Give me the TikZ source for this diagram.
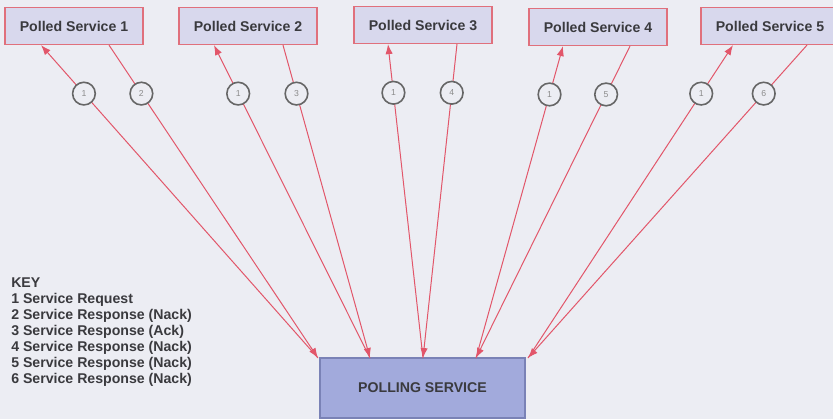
\documentclass[tikz,border=0pt]{standalone}
\usepackage{fontspec}
\setmainfont{Liberation Sans}
\usetikzlibrary{arrows.meta,calc}

\definecolor{paper}{RGB}{236,237,243}
\definecolor{boxfill}{RGB}{216,216,237}
\definecolor{boxline}{RGB}{224,112,124}
\definecolor{pollfill}{RGB}{162,170,220}
\definecolor{pollline}{RGB}{122,130,182}
\definecolor{wire}{RGB}{226,86,106}
\definecolor{ink}{RGB}{58,58,62}

\begin{document}
\begin{tikzpicture}[x=0.75pt,y=-0.75pt,
  polled/.style={draw=boxline, line width=0.9pt, fill=boxfill, text=ink,
    minimum width=103.5pt, minimum height=27.75pt, inner sep=0pt,
    font=\fontsize{10.6}{12}\selectfont\bfseries},
  poller/.style={draw=pollline, line width=0.8pt, fill=pollfill, text=ink,
    minimum width=153.75pt, minimum height=45pt, inner sep=0pt,
    font=\fontsize{10.6}{12}\selectfont\bfseries},
  num/.style={circle, draw=black!60, line width=1.2pt, fill=paper, text=black!45,
    minimum size=17pt, inner sep=0pt, font=\fontsize{6.5}{6.5}\selectfont},
  req/.style={draw=wire, line width=0.75pt, -{Latex[length=7.5pt,width=5.5pt]}},
  resp/.style={req}]

  % Page
  \fill[paper] (0,0) rectangle (833,419);
  \useasboundingbox (0,0) rectangle (833,419);

  % Polled services
  \node[polled] (ps1) at (74,26) {Polled Service 1};
  \node[polled] (ps2) at (248,26) {Polled Service 2};
  \node[polled] (ps3) at (423,25) {Polled Service 3};
  \node[polled] (ps4) at (598,27) {Polled Service 4};
  \node[polled] (ps5) at (770,26) {Polled Service 5};

  % Polling service
  \node[poller] (poll) at (422.5,388) {POLLING SERVICE};

  % Meeting points on top of the polling service
  \coordinate (p1) at (318,358);
  \coordinate (p2) at (370,358);
  \coordinate (p3) at (423,358);
  \coordinate (p4) at (476,358);
  \coordinate (p5) at (528,358);

  % Requests (1) up, responses back down
  \draw[req] (p1) -- node[num,pos=0.845] (q1) {1} ($(ps1.south)+(-33,0)$);
  \draw[resp] ($(ps1.south)+(35,0)$) -- node[num,pos=0.155] (r1) {2} (p1);

  \draw[req] (p2) -- node[num,pos=0.845] (q2) {1} ($(ps2.south)+(-34,0)$);
  \draw[resp] ($(ps2.south)+(35,0)$) -- node[num,pos=0.155] (r2) {3} (p2);

  \draw[req] (p3) -- node[num,pos=0.845] (q3) {1} ($(ps3.south)+(-35,0)$);
  \draw[resp] ($(ps3.south)+(34,0)$) -- node[num,pos=0.155] (r3) {4} (p3);

  \draw[req] (p4) -- node[num,pos=0.845] (q4) {1} ($(ps4.south)+(-35,0)$);
  \draw[resp] ($(ps4.south)+(32,0)$) -- node[num,pos=0.155] (r4) {5} (p4);

  \draw[req] (p5) -- node[num,pos=0.845] (q5) {1} ($(ps5.south)+(-37,0)$);
  \draw[resp] ($(ps5.south)+(37,0)$) -- node[num,pos=0.155] (r5) {6} (p5);

  % Key
  \node[anchor=north west, inner sep=0pt, align=left, text=ink,
    font=\fontsize{10.6}{12}\selectfont\bfseries] (key) at (11,278)
    {KEY\\
     1 Service Request\\
     2 Service Response (Nack)\\
     3 Service Response (Ack)\\
     4 Service Response (Nack)\\
     5 Service Response (Nack)\\
     6 Service Response (Nack)};

\end{tikzpicture}
\end{document}
